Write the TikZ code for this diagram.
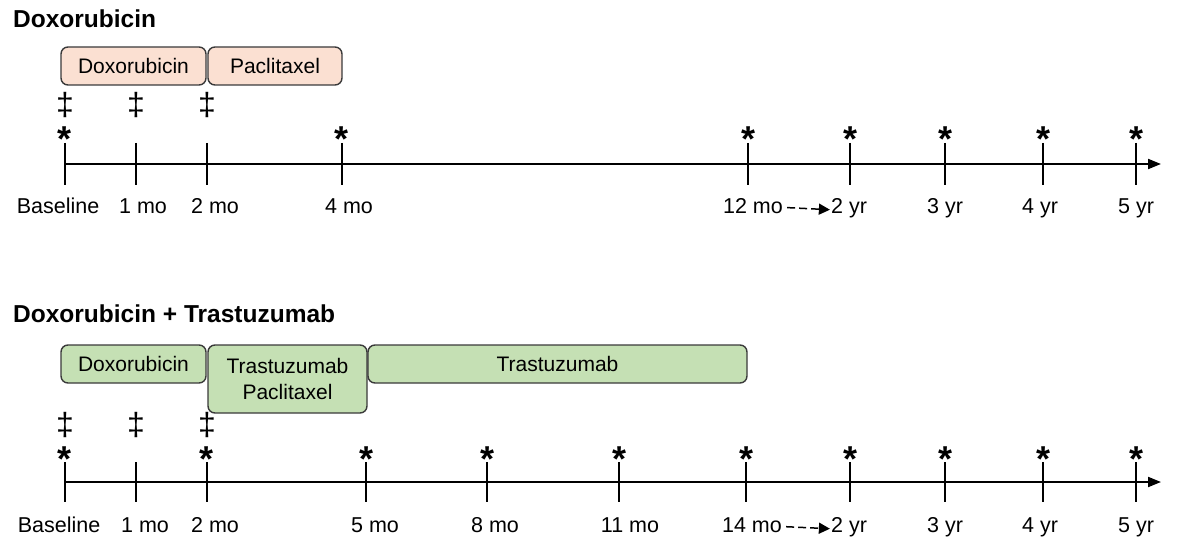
\documentclass[tikz,border=0pt]{standalone}
\usepackage{fontspec}
\setmainfont{Liberation Sans}
\usetikzlibrary{arrows.meta}
\definecolor{peach}{HTML}{FBE0D2}
\definecolor{leaf}{HTML}{C5E0B4}
\definecolor{edgegray}{HTML}{3A3A3A}
\begin{document}
\begin{tikzpicture}[x=1pt,y=-1pt,
  drug/.style={draw=edgegray, line width=1.4pt, rounded corners=7pt, inner sep=0pt, align=center, font=\fontsize{21}{25.5}\selectfont},
  peachbox/.style={drug, fill=peach},
  greenbox/.style={drug, fill=leaf},
  axisline/.style={line width=2pt, -{Triangle[length=13pt,width=10pt]}},
  tickline/.style={line width=2pt},
  starmark/.style={inner sep=0pt, anchor=north, font=\fontsize{36}{36}\selectfont\bfseries},
  dagmark/.style={inner sep=0pt, anchor=south, font=\fontsize{32}{32}\selectfont},
  tlabel/.style={anchor=base, inner sep=0pt, font=\fontsize{21.5}{21.5}\selectfont},
  titletext/.style={anchor=base west, inner sep=0pt, font=\fontsize{24.5}{24.5}\selectfont\bfseries},
  dasharrow/.style={line width=1.5pt, dash pattern=on 8pt off 4pt, -{Triangle[length=11pt,width=11pt]}}
]
\useasboundingbox (0,0) rectangle (1180,540);

% ---------- Top panel ----------
\node[titletext] (title1) at (13,28) {Doxorubicin};
\node[peachbox, minimum width=145pt, minimum height=38pt] (doxA) at (133.5,66) {Doxorubicin};
\node[peachbox, minimum width=134pt, minimum height=38pt] (pacA) at (275,66) {Paclitaxel};

\coordinate (axAstart) at (65,164);
\coordinate (axAend) at (1161,164);
\draw[axisline] (axAstart) -- (axAend);
\foreach \x in {65,136,207,342,748,850,945,1043,1136}
  \draw[tickline] (\x,143) -- (\x,185);
\foreach \x/\n in {65/a1,342/a2,748/a3,850/a4,945/a5,1043/a6,1136/a7}
  \node[starmark] (st\n) at (\x,127) {*};
\foreach \x/\n in {65/a1,136/a2,207/a3}
  \node[dagmark] (dg\n) at (\x,118) {‡};

\node[tlabel] (lA1) at (58,213) {Baseline};
\node[tlabel] (lA2) at (143,213) {1 mo};
\node[tlabel] (lA3) at (215,213) {2 mo};
\node[tlabel] (lA4) at (349,213) {4 mo};
\node[tlabel] (lA5) at (753,213) {12 mo};
\node[tlabel] (lA6) at (849,213) {2 yr};
\node[tlabel] (lA7) at (945,213) {3 yr};
\node[tlabel] (lA8) at (1040,213) {4 yr};
\node[tlabel] (lA9) at (1136,213) {5 yr};
\draw[dasharrow] ([xshift=4pt,yshift=-2pt]lA5.east) -- ([xshift=-1pt,yshift=-2pt]lA6.west);

% ---------- Bottom panel ----------
\node[titletext] (title2) at (13,322) {Doxorubicin + Trastuzumab};
\node[greenbox, minimum width=145pt, minimum height=38pt] (doxB) at (133.5,364) {Doxorubicin};
\node[greenbox, minimum width=159pt, minimum height=68pt] (tpB) at (287.5,379) {Trastuzumab\\Paclitaxel};
\node[greenbox, minimum width=379pt, minimum height=38pt] (traB) at (557.5,364) {Trastuzumab};

\coordinate (axBstart) at (65,482);
\coordinate (axBend) at (1161,482);
\draw[axisline] (axBstart) -- (axBend);
\foreach \x in {65,136,207,366,487,619,746,850,945,1043,1136}
  \draw[tickline] (\x,462) -- (\x,502);
\foreach \x/\n in {65/b1,207/b2,366/b3,487/b4,619/b5,746/b6,850/b7,945/b8,1043/b9,1136/b10}
  \node[starmark] (st\n) at (\x,447) {*};
\foreach \x/\n in {65/b1,136/b2,207/b3}
  \node[dagmark] (dg\n) at (\x,438) {‡};

\node[tlabel] (lB1) at (59,532) {Baseline};
\node[tlabel] (lB2) at (145,532) {1 mo};
\node[tlabel] (lB3) at (215,532) {2 mo};
\node[tlabel] (lB4) at (375,532) {5 mo};
\node[tlabel] (lB5) at (495,532) {8 mo};
\node[tlabel] (lB6) at (630,532) {11 mo};
\node[tlabel] (lB7) at (752,532) {14 mo};
\node[tlabel] (lB8) at (849,532) {2 yr};
\node[tlabel] (lB9) at (945,532) {3 yr};
\node[tlabel] (lB10) at (1040,532) {4 yr};
\node[tlabel] (lB11) at (1136,532) {5 yr};
\draw[dasharrow] ([xshift=4pt,yshift=-2pt]lB7.east) -- ([xshift=-1pt,yshift=-2pt]lB8.west);
\end{tikzpicture}
\end{document}
